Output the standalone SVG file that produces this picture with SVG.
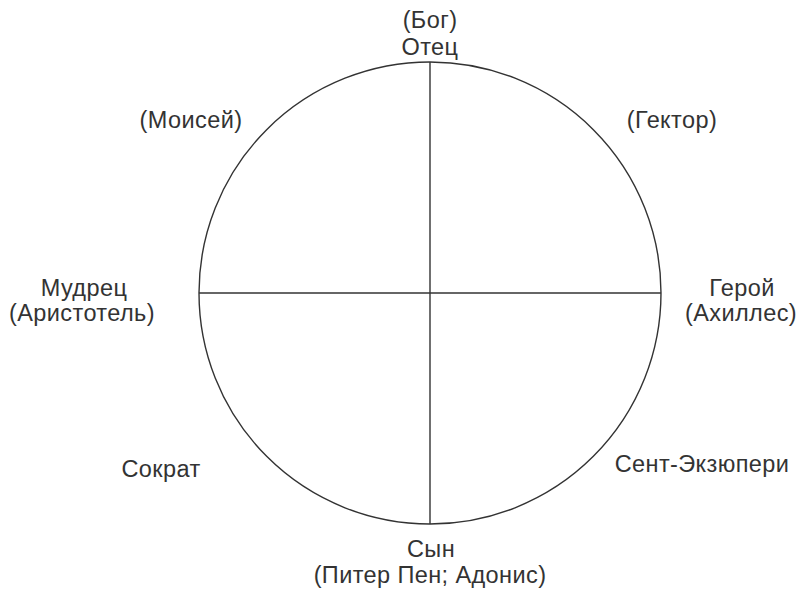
<svg xmlns="http://www.w3.org/2000/svg" width="797" height="589" viewBox="0 0 797 589">
<style>
text{font-family:"Liberation Sans",Arial,sans-serif;font-size:23.5px;letter-spacing:0.4px;fill:#333;text-anchor:middle}
.ln{stroke:#333;stroke-width:1.4;fill:none}
</style>
<rect width="797" height="589" fill="#fff"/>
<g id="connectors">
<circle class="ln" cx="430" cy="293" r="231"/>
<line class="ln" x1="430" y1="62" x2="430" y2="524"/>
<line class="ln" x1="199" y1="293" x2="661" y2="293"/>
</g>
<g id="top"><text x="430" y="28">(Бог)</text><text x="430" y="55">Отец</text></g>
<g id="moses"><text x="191" y="128">(Моисей)</text></g>
<g id="hector"><text x="672" y="128">(Гектор)</text></g>
<g id="sage"><text x="84" y="296">Мудрец</text><text x="82" y="321">(Аристотель)</text></g>
<g id="hero"><text x="742" y="296">Герой</text><text x="741" y="321">(Ахиллес)</text></g>
<g id="socrates"><text x="161" y="477">Сократ</text></g>
<g id="exupery"><text x="702" y="472">Сент-Экзюпери</text></g>
<g id="son"><text x="431" y="557">Сын</text><text x="430" y="583">(Питер Пен; Адонис)</text></g>
</svg>
